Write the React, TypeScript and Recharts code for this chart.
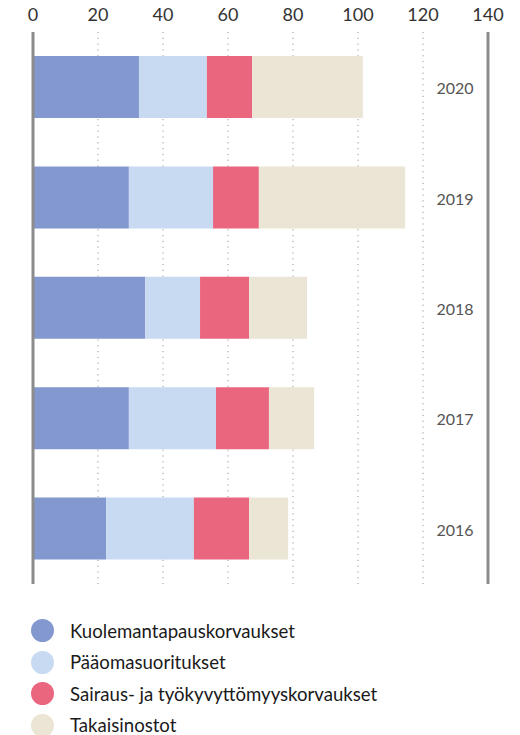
import React from "react";
import {
  Bar,
  BarChart,
  CartesianGrid,
  Legend,
  ReferenceLine,
  XAxis,
  YAxis,
} from "recharts";

// vuodet ylhäältä alas
const YEARS = ["2020", "2019", "2018", "2017", "2016"];
const KUOLEMA = [32.6, 29.5, 34.5, 29.5, 22.5];
const PAAOMA = [20.9, 25.9, 16.9, 26.8, 27.0];
const SAIRAUS = [13.9, 14.1, 15.1, 16.3, 17.0];
const TAKAISIN = [34.1, 45.0, 17.8, 13.9, 12.0];
const X_TICKS = [0, 20, 40, 60, 80, 100, 120, 140];

const SERIES = [
  { key: "kuolema", name: "Kuolemantapauskorvaukset", color: "#8298ce" },
  { key: "paaoma", name: "Pääomasuoritukset", color: "#c7daf1" },
  { key: "sairaus", name: "Sairaus- ja työkyvyttömyyskorvaukset", color: "#ea657e" },
  { key: "takaisin", name: "Takaisinostot", color: "#ebe5d6" },
];

const data = YEARS.map((year, i) => ({
  year,
  kuolema: KUOLEMA[i],
  paaoma: PAAOMA[i],
  sairaus: SAIRAUS[i],
  takaisin: TAKAISIN[i],
}));

const FONT = "Lato, 'Open Sans', sans-serif";

const renderYearTick = (props: any) => {
  const { x, y, payload } = props;
  return (
    <text
      x={x}
      y={y}
      dx={-33}
      dy={7}
      textAnchor="middle"
      fill="#555"
      fontSize={16}
      fontFamily={FONT}
    >
      {payload.value}
    </text>
  );
};

function LegendBox() {
  return (
    <div style={{ height: 151, paddingTop: 31, boxSizing: "border-box", fontFamily: FONT, textAlign: "left" }}>
      {SERIES.map((s) => (
        <div key={s.key} style={{ display: "flex", alignItems: "center", height: 31.5 }}>
          <span
            style={{
              width: 23,
              height: 23,
              borderRadius: "50%",
              background: s.color,
              marginLeft: -2,
              marginRight: 16,
              flexShrink: 0,
            }}
          />
          <span style={{ fontSize: 18.6, lineHeight: "20px", color: "#1a1a1a" }}>{s.name}</span>
        </div>
      ))}
    </div>
  );
}

export default function App() {
  return (
    <div style={{ position: "absolute", left: 0, top: 0, background: "#fff" }}>
      <BarChart
        width={520}
        height={735}
        data={data}
        layout="vertical"
        barSize={62}
        margin={{ top: 0, right: 31, bottom: 0, left: 33 }}
      >
        <CartesianGrid
          horizontal={false}
          stroke="#999"
          strokeDasharray="1.2 4.6"
        />
        <XAxis
          type="number"
          orientation="top"
          domain={[0, 140]}
          ticks={X_TICKS}
          interval={0}
          height={32}
          axisLine={false}
          tickLine={false}
          tickSize={0}
          tickMargin={11}
          tick={{ fill: "#333", fontSize: 18, fontFamily: FONT }}
        />
        <YAxis
          type="category"
          dataKey="year"
          orientation="right"
          width={1}
          axisLine={false}
          tickLine={false}
          tickSize={0}
          tickMargin={0}
          interval={0}
          tick={renderYearTick}
        />
        {SERIES.map((s) => (
          <Bar
            key={s.key}
            dataKey={s.key}
            name={s.name}
            stackId="a"
            fill={s.color}
            isAnimationActive={false}
          />
        ))}
        <ReferenceLine x={0} stroke="#8c8c8c" strokeWidth={3} />
        <ReferenceLine x={140} stroke="#8c8c8c" strokeWidth={3} />
        <Legend
          layout="horizontal"
          verticalAlign="bottom"
          align="left"
          content={() => <LegendBox />}
        />
      </BarChart>
    </div>
  );
}
